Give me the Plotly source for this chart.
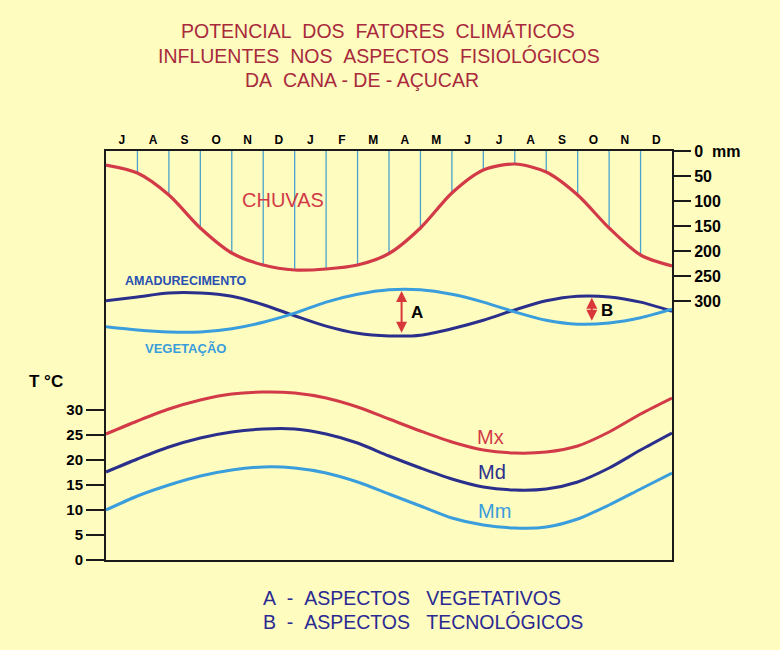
import numpy as np
import plotly.graph_objects as go

# ---------------- data ----------------
months = ["J", "A", "S", "O", "N", "D", "J", "F", "M", "A", "M", "J", "J", "A", "S", "O", "N", "D"]
month_centers = [i + 0.5 for i in range(len(months))]
month_bounds = list(range(len(months) + 1))  # 0 .. 18

chuvas_mm = [28, 44, 88, 154, 204, 228, 238, 236, 228, 205, 154, 84, 38, 26, 42, 88, 154, 208, 230]

# relative index (0-100) of the physiological curves
amadurecimento = [68, 74, 80, 80, 75, 62, 45, 29, 18, 14, 15, 25, 38, 54, 68, 75, 74, 66, 52]
vegetacao = [28, 23, 20, 20, 25, 35, 49, 66, 78, 85, 85, 78, 66, 51, 38, 32, 34, 42, 55]

temp_mx = [25.2, 27.8, 30.2, 32.0, 33.2, 33.6, 33.4, 32.4, 30.6, 28.2, 25.8, 23.6, 22.0, 21.4, 21.6, 22.8, 25.6, 29.2, 32.4]
temp_md = [17.6, 20.2, 22.6, 24.4, 25.6, 26.2, 26.2, 25.2, 23.4, 20.8, 18.4, 16.2, 14.6, 14.0, 14.2, 15.6, 18.4, 22.0, 25.4]
temp_mm = [10.0, 12.8, 15.0, 16.8, 18.0, 18.6, 18.4, 17.4, 15.6, 13.2, 10.8, 8.4, 7.0, 6.4, 6.6, 8.2, 11.0, 14.2, 17.4]

temp_ticks = [0, 5, 10, 15, 20, 25, 30]
rain_ticks = [0, 50, 100, 150, 200, 250, 300]
rain_tick_text = ["0\u00a0\u00a0mm", "50", "100", "150", "200", "250", "300"]

arrow_month = {"A": 9.4, "B": 15.45}

# ---------------- styles ----------------
BG = "#fffcc0"
RED = "#d23a48"
NAVY = "#2b2f8c"
LBLUE = "#3a9ddc"
HATCH = "#4aa3cc"
TITLE = "#a82a3c"
FONT = "Liberation Sans, Arial, sans-serif"

fig = go.Figure()

# rain hatch lines (top edge down to rain curve)
hx, hy = [], []
for i in month_bounds[1:-1]:
    hx += [i, i, None]
    hy += [0, chuvas_mm[i], None]
fig.add_trace(go.Scatter(x=hx, y=hy, mode="lines", yaxis="y2",
                         line=dict(color=HATCH, width=1.3), hoverinfo="skip", showlegend=False))

fig.add_trace(go.Scatter(x=month_bounds, y=chuvas_mm, mode="lines", yaxis="y2", name="Chuvas",
                         line=dict(color=RED, width=3.2, shape="spline", smoothing=0.8), showlegend=False))

fig.add_trace(go.Scatter(x=month_bounds, y=temp_mx, mode="lines", name="Mx",
                         line=dict(color=RED, width=3, shape="spline", smoothing=0.8), showlegend=False))
fig.add_trace(go.Scatter(x=month_bounds, y=temp_md, mode="lines", name="Md",
                         line=dict(color=NAVY, width=3, shape="spline", smoothing=0.8), showlegend=False))
fig.add_trace(go.Scatter(x=month_bounds, y=temp_mm, mode="lines", name="Mm",
                         line=dict(color=LBLUE, width=3, shape="spline", smoothing=0.8), showlegend=False))

fig.add_trace(go.Scatter(x=month_bounds, y=amadurecimento, mode="lines", yaxis="y3", name="Amadurecimento",
                         line=dict(color=NAVY, width=3, shape="spline", smoothing=0.8), showlegend=False))
fig.add_trace(go.Scatter(x=month_bounds, y=vegetacao, mode="lines", yaxis="y3", name="Vegetação",
                         line=dict(color=LBLUE, width=3, shape="spline", smoothing=0.8), showlegend=False))

ann = []
# double arrows A and B between the two physiological curves
for key, m in arrow_month.items():
    ya = float(np.interp(m, month_bounds, amadurecimento))
    yv = float(np.interp(m, month_bounds, vegetacao))
    lo, hi = min(ya, yv), max(ya, yv)
    ann.append(dict(x=m, y=hi - 2, xref="x", yref="y3", ax=m, ay=lo + 2, axref="x", ayref="y3",
                    showarrow=True, arrowside="end+start", arrowhead=2, arrowsize=1.1,
                    arrowwidth=2, arrowcolor="#d8383a", text=""))
    ann.append(dict(x=m + 0.22, y=(ya + yv) / 2, xref="x", yref="y3", text="<b>%s</b>" % key,
                    showarrow=False, xanchor="left", font=dict(size=17, color="black", family=FONT)))

def px(xp, yp):
    return (xp - 106) / 566.0, (560 - yp) / 409.0

def label(text, xp, yp, size, color, xanchor="center", bold=False):
    x, y = px(xp, yp)
    t = "<b>%s</b>" % text if bold else text
    ann.append(dict(x=x, y=y, xref="paper", yref="paper", text=t, showarrow=False,
                    xanchor=xanchor, yanchor="middle", font=dict(size=size, color=color, family=FONT)))

NB = "\u00a0"
label("POTENCIAL" + NB * 2 + "DOS" + NB * 2 + "FATORES" + NB * 2 + "CLIMÁTICOS", 378, 31, 19.5, TITLE)
label("INFLUENTES" + NB * 2 + "NOS" + NB * 2 + "ASPECTOS" + NB * 2 + "FISIOLÓGICOS", 379, 56, 19.5, TITLE)
label("DA" + NB * 2 + "CANA - DE - AÇUCAR", 243, 80, 19.5, TITLE, xanchor="left")

label("CHUVAS", 283, 200, 20, RED)
label("AMADURECIMENTO", 123, 281, 12.5, "#2850b0", xanchor="left", bold=True)
label("VEGETAÇÃO", 143, 348, 13, LBLUE, xanchor="left", bold=True)
label("T" + NB + "°C", 27, 381, 17, "black", xanchor="left", bold=True)

label("Mx", 475, 437, 20, RED, xanchor="left")
label("Md", 476, 472, 20, NAVY, xanchor="left")
label("Mm", 476, 511, 20, LBLUE, xanchor="left")

label("A" + NB * 2 + "-" + NB * 2 + "ASPECTOS" + NB * 3 + "VEGETATIVOS", 261, 598, 19.5, "#2a2a92", xanchor="left")
label("B" + NB * 2 + "-" + NB * 2 + "ASPECTOS" + NB * 3 + "TECNOLÓGICOS", 261, 622, 19.5, "#2a2a92", xanchor="left")

fig.update_layout(
    width=780, height=650,
    margin=dict(l=106, r=108, t=151, b=90),
    paper_bgcolor=BG, plot_bgcolor=BG,
    font=dict(family=FONT, color="black"),
    showlegend=False,
    annotations=ann,
    xaxis=dict(range=[0, 18], side="top", tickvals=month_centers, ticktext=months, ticks="",
               showgrid=False, zeroline=False, showline=True, mirror=True, linecolor="#1a1a1a",
               linewidth=2, tickfont=dict(size=12, weight="bold", color="black")),
    yaxis=dict(range=[0, 409 / 5.0], tickvals=temp_ticks, ticks="outside", ticklen=18, tickwidth=2,
               tickcolor="#1a1a1a", showgrid=False, zeroline=False, showline=True, mirror=True,
               linecolor="#1a1a1a", linewidth=2, tickfont=dict(size=15, weight="bold", color="black"),
               domain=[0, 1]),
    yaxis2=dict(range=[818, 0], overlaying="y", side="right", anchor="x", tickvals=rain_ticks,
                ticktext=rain_tick_text, ticks="outside", ticklen=18, tickwidth=2, tickcolor="#1a1a1a",
                showgrid=False, zeroline=False, showline=False,
                tickfont=dict(size=16, weight="bold", color="black")),
    yaxis3=dict(range=[0, 100], anchor="x", visible=False, showgrid=False, zeroline=False,
                domain=[(560 - 345) / 409.0, (560 - 280) / 409.0]),
)

fig.write_html("out.html", config={"displayModeBar": False},
               post_script="document.body.style.margin='0px';document.body.style.background='%s';" % BG)
